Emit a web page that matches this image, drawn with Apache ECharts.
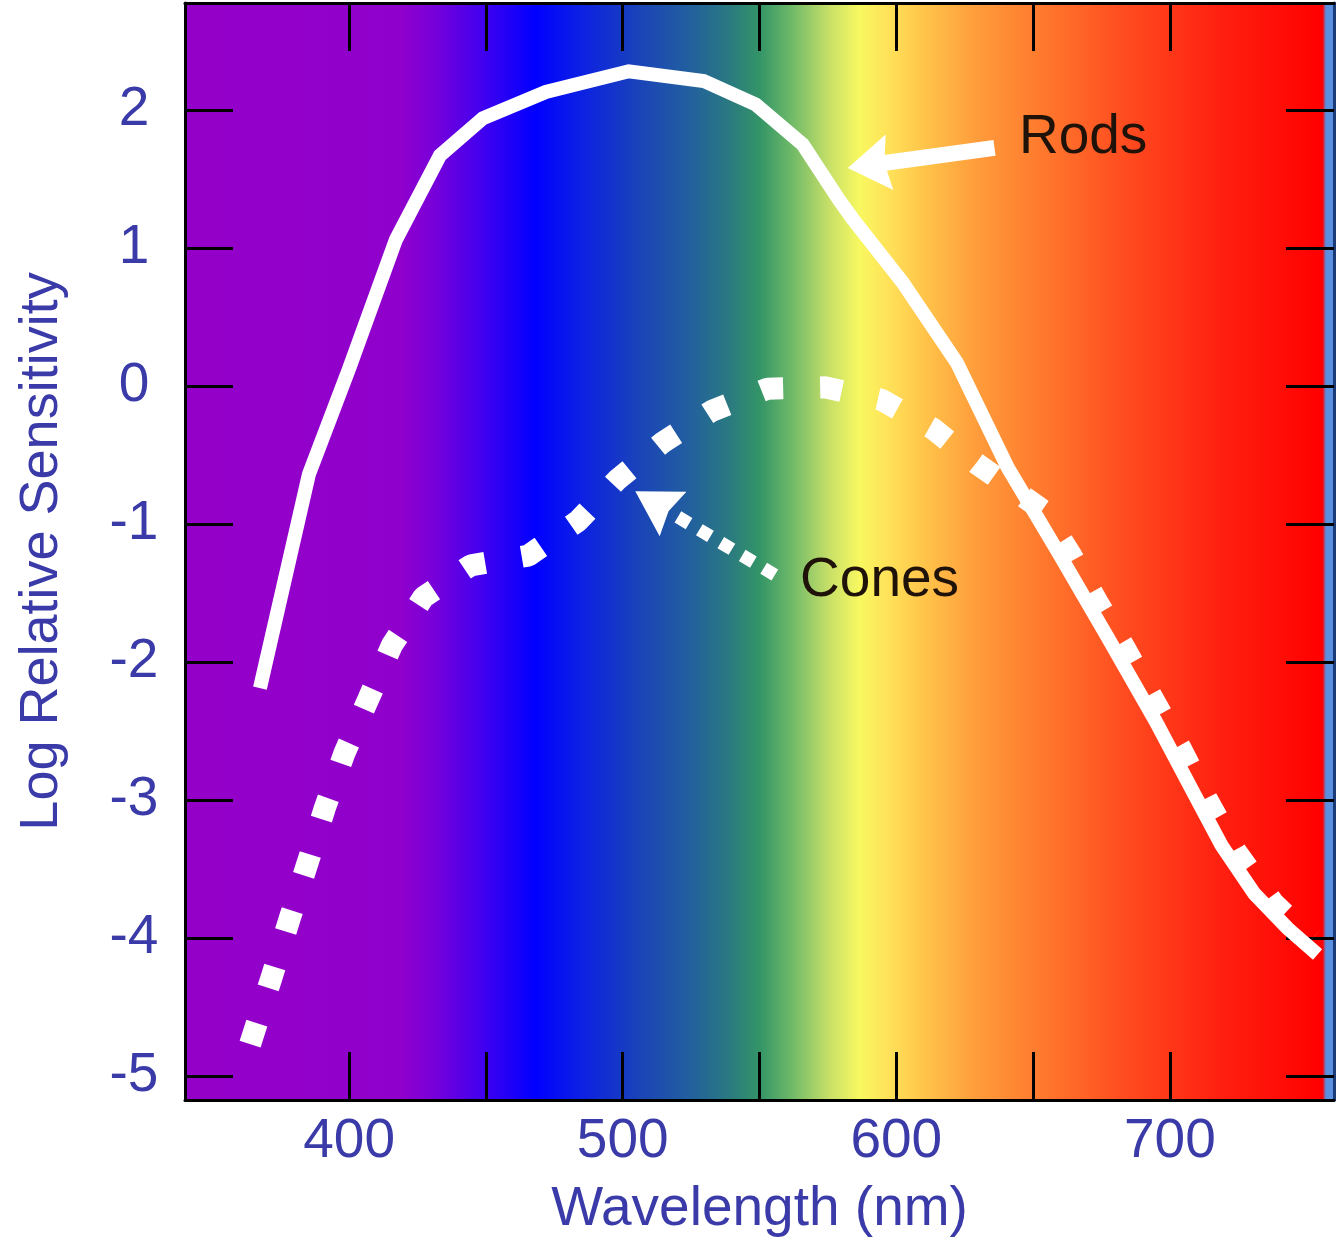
<!DOCTYPE html>
<html>
<head>
<meta charset="utf-8">
<title>Rods and Cones sensitivity</title>
<script src="https://cdn.jsdelivr.net/npm/echarts@6/dist/echarts.min.js"></script>
<style>
  html, body { margin: 0; padding: 0; background: #fff; }
  #chart { width: 1339px; height: 1243px; }
</style>
</head>
<body>
<div id="chart"></div>
<script>
// values: wavelength (nm) and log relative sensitivity
var rodsNm  = [367.4, 385.3, 399.9, 417.1, 433.2, 448.9, 471.9, 502.2, 529.6, 548.6, 565.8, 579.0,
               584.1, 602.3, 622.1, 640.7, 659.0, 677.2, 694.8, 711.9, 718.9, 730.9, 743.0, 754.0];
var rodsLog = [-2.19, -0.64, 0.12, 1.06, 1.67, 1.94, 2.13, 2.28, 2.21, 2.04, 1.75, 1.35,
               1.21, 0.75, 0.17, -0.59, -1.20, -1.82, -2.43, -3.07, -3.33, -3.68, -3.93, -4.12];

var conesNm  = [363.8, 371.6, 378.1, 384.6, 391.1, 398.3, 407.0, 415.6, 427.2, 444.5, 465.5, 483.6,
                498.0, 514.6, 532.7, 552.9, 573.8, 594.5, 613.4, 629.2, 653.5, 663.7, 673.6, 683.8,
                693.3, 704.3, 713.4, 724.0, 737.9, 751.8];
var conesLog = [-4.77, -4.29, -3.87, -3.47, -3.06, -2.66, -2.27, -1.88, -1.53, -1.30, -1.23, -0.98,
                -0.68, -0.41, -0.18, -0.02, -0.01, -0.10, -0.31, -0.56, -0.90, -1.22, -1.57, -1.91,
                -2.25, -2.64, -2.99, -3.37, -3.75, -4.01];

var xTicks  = [400, 450, 500, 550, 600, 650, 700];
var xLabels = [400, 500, 600, 700];
var yTicks  = [-5, -4, -3, -2, -1, 0, 1, 2];

// annotation anchors (data coords): arrow tail -> arrow head centre, label centres
var rodsArrow  = [[635.9, 1.725], [589.9, 1.60]];
var conesArrow = [[555.6, -1.37], [511.5, -0.846]];
var rodsText   = [668.3, 1.80];
var conesText  = [593.9, -1.41];

function pairs(xs, ys) {
  return xs.map(function (x, i) { return [x, ys[i]]; });
}

var font = 'Liberation Sans';
var blue = '#3a3aa8';
// filled arrow head with a shallow notch
var head = 'path://M50,0 L100,100 L50,88 L0,100 Z';

function xAxisOf(pos, showLabel) {
  return {
    type: 'value', position: pos, min: 340, max: 760,
    axisLine: { show: true, onZero: false, lineStyle: { color: '#000', width: 3 } },
    axisTick: { show: true, inside: true, length: 48, customValues: xTicks, lineStyle: { color: '#000', width: 3 } },
    axisLabel: { show: showLabel, customValues: xLabels, margin: 14, color: blue, fontSize: 55, fontFamily: font },
    splitLine: { show: false }
  };
}

function yAxisOf(pos, showLabel) {
  return {
    type: 'value', position: pos, min: -5.175, max: 2.775,
    axisLine: { show: true, onZero: false, lineStyle: { color: pos === 'right' ? '#1b3a78' : '#000', width: 3 } },
    axisTick: { show: true, inside: true, length: 48, customValues: yTicks, lineStyle: { color: '#000', width: 3 } },
    axisLabel: { show: showLabel, customValues: yTicks, margin: 51, align: 'center', color: blue, fontSize: 55, fontFamily: font },
    splitLine: { show: false }
  };
}

var chart = echarts.init(document.getElementById('chart'));

var bottomX = xAxisOf('bottom', true);
bottomX.name = 'Wavelength (nm)';
bottomX.nameLocation = 'middle';
bottomX.nameGap = 82;
bottomX.nameTextStyle = { color: blue, fontSize: 55, fontFamily: font };

var leftY = yAxisOf('left', true);
leftY.name = 'Log Relative Sensitivity';
leftY.nameLocation = 'middle';
leftY.nameGap = 116;
leftY.nameTextStyle = { color: blue, fontSize: 54, fontFamily: font };

chart.setOption({
  animation: false,
  backgroundColor: '#fff',
  grid: {
    left: 185, right: 5, top: 3, bottom: 143,
    show: true, borderWidth: 0,
    backgroundColor: {
      type: 'linear', x: 0, y: 0, x2: 1, y2: 0,
      colorStops: [
        { offset: 0.000, color: '#9400c8' },
        { offset: 0.187, color: '#9000cc' },
        { offset: 0.213, color: '#7c00d8' },
        { offset: 0.257, color: '#4400ee' },
        { offset: 0.305, color: '#0000ff' },
        { offset: 0.344, color: '#0c20e4' },
        { offset: 0.396, color: '#1a44b8' },
        { offset: 0.440, color: '#22609e' },
        { offset: 0.474, color: '#2a7a80' },
        { offset: 0.500, color: '#339467' },
        { offset: 0.527, color: '#6cb868' },
        { offset: 0.561, color: '#c8e068' },
        { offset: 0.587, color: '#f8f860' },
        { offset: 0.614, color: '#ffe058' },
        { offset: 0.648, color: '#ffc048' },
        { offset: 0.692, color: '#ff9a3a' },
        { offset: 0.744, color: '#ff7a2e' },
        { offset: 0.814, color: '#ff4e20' },
        { offset: 0.901, color: '#ff2010' },
        { offset: 0.990, color: '#ff0000' },
        { offset: 0.993, color: '#5b90e0' },
        { offset: 1.000, color: '#5b90e0' }
      ]
    }
  },
  xAxis: [bottomX, xAxisOf('top', false)],
  yAxis: [leftY, yAxisOf('right', false)],
  series: [
    {
      name: 'Cones',
      type: 'line',
      data: pairs(conesNm, conesLog),
      showSymbol: false,
      symbol: 'none',
      lineStyle: { color: '#fff', width: 22, type: [22, 37], cap: 'butt' },
      markLine: {
        silent: true,
        animation: false,
        label: { show: false },
        lineStyle: { color: '#fff', width: 13, type: [13, 12], cap: 'butt' },
        data: [[
          { coord: conesArrow[0], symbol: 'none' },
          { coord: conesArrow[1], symbol: head, symbolSize: [52, 44] }
        ]]
      },
      z: 2
    },
    {
      name: 'Rods',
      type: 'line',
      data: pairs(rodsNm, rodsLog),
      showSymbol: false,
      symbol: 'none',
      lineStyle: { color: '#fff', width: 14, cap: 'butt', join: 'miter' },
      markLine: {
        silent: true,
        animation: false,
        label: { show: false },
        lineStyle: { color: '#fff', width: 16, type: 'solid', cap: 'butt' },
        data: [[
          { coord: rodsArrow[0], symbol: 'none' },
          { coord: rodsArrow[1], symbol: head, symbolSize: [56, 42] }
        ]]
      },
      markPoint: {
        silent: true,
        animation: false,
        symbol: 'rect',
        symbolSize: 1,
        itemStyle: { color: 'rgba(0,0,0,0)' },
        label: {
          show: true, position: 'inside', formatter: '{b}',
          color: '#1f1208', fontSize: 55, fontFamily: font
        },
        data: [
          { name: 'Rods', coord: rodsText },
          { name: 'Cones', coord: conesText }
        ]
      },
      z: 3
    }
  ]
});

window.addEventListener('resize', function () { chart.resize(); });
</script>
</body>
</html>
